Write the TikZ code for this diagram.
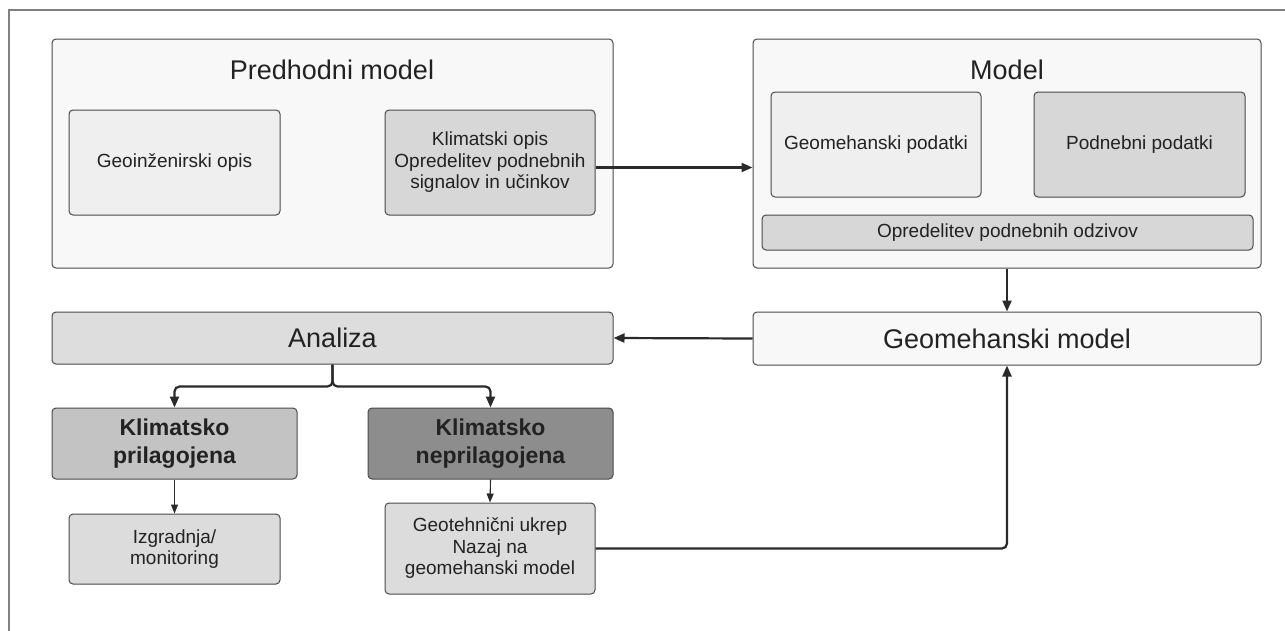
\documentclass[tikz,border=0pt]{standalone}
\usepackage{fontspec}
\setmainfont{Liberation Sans}
\usetikzlibrary{arrows.meta}
\definecolor{outerfill}{HTML}{F8F8F8}
\definecolor{lightfill}{HTML}{EFEFEF}
\definecolor{midfill}{HTML}{D7D7D7}
\definecolor{anafill}{HTML}{DDDDDD}
\definecolor{prilfill}{HTML}{C3C3C3}
\definecolor{neprfill}{HTML}{8D8D8D}
\definecolor{stepfill}{HTML}{DCDCDC}
\definecolor{txt}{HTML}{222222}
\definecolor{edge}{HTML}{4A4A4A}
\definecolor{arr}{HTML}{2A2A2A}
\begin{document}
\begin{tikzpicture}[x=1pt,y=-1pt,
  box/.style={draw=edge, line width=1pt, rounded corners=4pt, text=txt, align=center, inner sep=0pt},
  bigtxt/.style={text=txt, font=\fontsize{27}{30}\selectfont},
  smalltxt/.style={font=\fontsize{19}{21.5}\selectfont},
  boldtxt/.style={font=\fontsize{23}{28}\selectfont\bfseries},
  thickarrow/.style={draw=arr, line width=2.2pt, -{Triangle[length=11pt,width=9pt]}},
  thinarrow/.style={draw=arr, line width=1.1pt, -{Triangle[length=9pt,width=7pt]}}
]
\useasboundingbox (0,0) rectangle (1285,630);
\fill[white] (0,0) rectangle (1285,630);
\draw[gray, line width=1.4pt] (9,632) -- (9,10) -- (1287,10);

% upper containers
\node[box, fill=outerfill, minimum width=561pt, minimum height=229pt] (pred) at (332.5,153.5) {};
\node[bigtxt] (predt) at (332,70) {Predhodni model};
\node[box, fill=lightfill, smalltxt, minimum width=211pt, minimum height=105pt] (geo) at (174.5,162.5) {Geoinženirski opis};
\node[box, fill=midfill, smalltxt, minimum width=210pt, minimum height=105pt] (klim) at (490,162.5) {Klimatski opis\\Opredelitev podnebnih\\signalov in učinkov};

\node[box, fill=outerfill, minimum width=508pt, minimum height=229pt] (model) at (1007,153.5) {};
\node[bigtxt] (modelt) at (1007,70) {Model};
\node[box, fill=lightfill, smalltxt, minimum width=210pt, minimum height=105pt] (gpod) at (876,144.5) {Geomehanski podatki};
\node[box, fill=midfill, smalltxt, minimum width=211pt, minimum height=105pt] (ppod) at (1139.5,144.5) {Podnebni podatki};
\node[box, fill=midfill, smalltxt, minimum width=491pt, minimum height=35pt] (opred) at (1007.5,232.5) {Opredelitev podnebnih odzivov};

% middle row
\node[box, fill=anafill, bigtxt, minimum width=561pt, minimum height=52pt] (ana) at (332.5,338) {Analiza};
\node[box, fill=outerfill, bigtxt, minimum width=508pt, minimum height=53pt] (gmod) at (1007,338.5) {Geomehanski model};

% lower row
\node[box, fill=prilfill, boldtxt, minimum width=245pt, minimum height=71pt] (pril) at (174.5,443.5) {Klimatsko\\prilagojena};
\node[box, fill=neprfill, boldtxt, minimum width=245pt, minimum height=71pt] (nepr) at (490.5,443.5) {Klimatsko\\neprilagojena};
\node[box, fill=stepfill, smalltxt, minimum width=211pt, minimum height=70pt] (izgr) at (174.5,549) {Izgradnja/\\monitoring};
\node[box, fill=stepfill, smalltxt, minimum width=210pt, minimum height=91pt] (geot) at (490,548.5) {Geotehnični ukrep\\Nazaj na\\geomehanski model};

% connectors
\draw[thickarrow] ([yshift=-5pt]klim.east) -- ([yshift=-5pt]klim.east -| model.west);
\draw[thickarrow] (model.south) -- (gmod.north);
\draw[thickarrow] (gmod.west) -- (ana.east);
\coordinate (br) at ([yshift=-22pt]ana.south);
\draw[thickarrow, rounded corners=5pt] (ana.south) -- (br) -| (pril.north);
\draw[thickarrow, rounded corners=5pt] (ana.south) -- (br) -| (nepr.north);
\draw[thinarrow] (pril.south) -- (izgr.north);
\draw[thinarrow] (nepr.south) -- (geot.north);
\draw[thickarrow, rounded corners=5pt] (geot.east) -| (gmod.south);
\end{tikzpicture}
\end{document}
